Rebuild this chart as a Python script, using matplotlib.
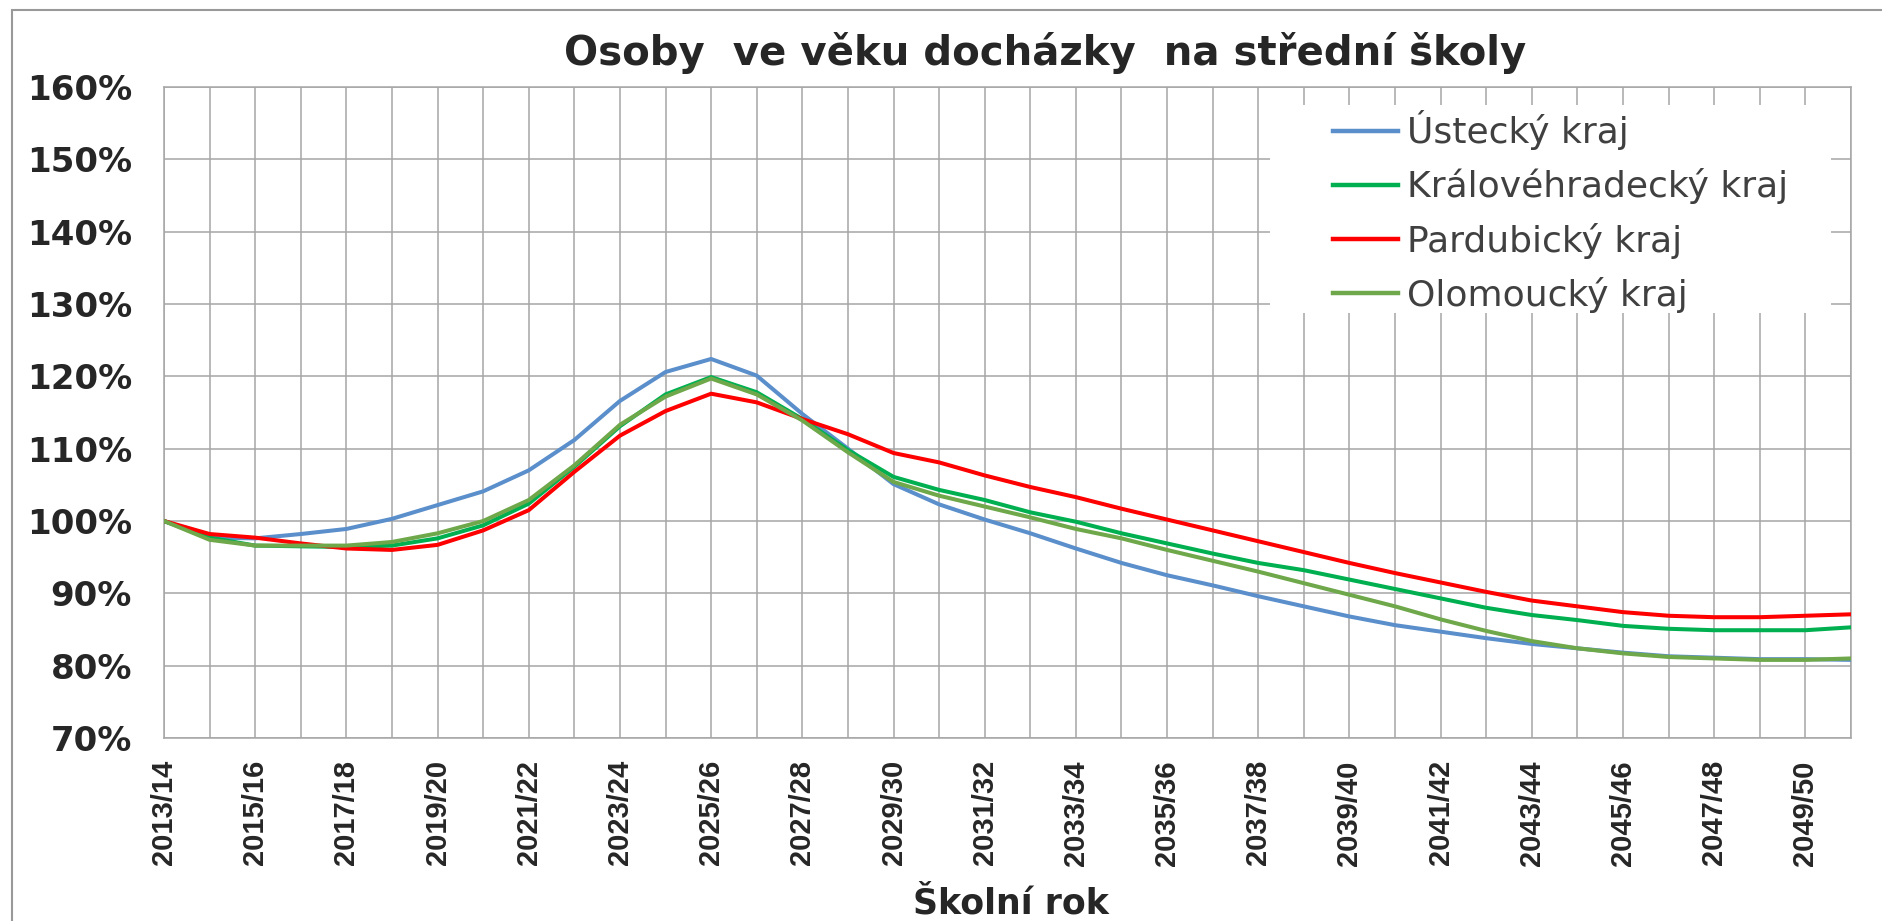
import matplotlib
matplotlib.use("Agg")
import matplotlib.pyplot as plt
from matplotlib import font_manager
from matplotlib.patches import Rectangle
from matplotlib.ticker import FuncFormatter

# school years 2013/14 .. 2050/51
years = [f"{y}/{(y + 1) % 100:02d}" for y in range(2013, 2051)]

ustecky = [100.0, 97.7, 97.6, 98.2, 98.9, 100.3, 102.2, 104.1, 107.0, 111.2,
           116.6, 120.6, 122.4, 120.1, 114.8, 110.0, 105.1, 102.3, 100.2, 98.3,
           96.2, 94.2, 92.5, 91.1, 89.6, 88.2, 86.8, 85.6, 84.7, 83.8,
           83.0, 82.4, 81.8, 81.3, 81.1, 80.9, 80.9, 80.8]
kralovehradecky = [100.0, 97.7, 96.6, 96.5, 96.4, 96.6, 97.6, 99.4, 102.4, 107.5,
                   113.1, 117.5, 119.9, 117.8, 114.1, 109.8, 106.1, 104.3, 102.9, 101.2,
                   99.9, 98.3, 96.9, 95.5, 94.2, 93.2, 91.9, 90.6, 89.3, 88.0,
                   87.0, 86.3, 85.5, 85.1, 84.9, 84.9, 84.9, 85.3]
pardubicky = [100.0, 98.2, 97.7, 96.9, 96.2, 96.0, 96.7, 98.7, 101.5, 106.8,
              111.8, 115.2, 117.6, 116.4, 114.1, 112.0, 109.4, 108.1, 106.3, 104.7,
              103.3, 101.7, 100.2, 98.7, 97.2, 95.7, 94.2, 92.8, 91.5, 90.2,
              89.0, 88.2, 87.4, 86.9, 86.7, 86.7, 86.9, 87.1]
olomoucky = [100.0, 97.4, 96.6, 96.6, 96.6, 97.1, 98.3, 100.0, 102.9, 107.7,
             113.3, 117.2, 119.7, 117.5, 113.9, 109.5, 105.4, 103.5, 102.0, 100.5,
             98.9, 97.6, 96.0, 94.5, 93.0, 91.4, 89.8, 88.2, 86.4, 84.8,
             83.4, 82.4, 81.7, 81.2, 81.0, 80.8, 80.8, 81.0]

series = [
    ("Ústecký kraj", ustecky, "#5a8fcb"),
    ("Královéhradecký kraj", kralovehradecky, "#00b050"),
    ("Pardubický kraj", pardubicky, "#ff0000"),
    ("Olomoucký kraj", olomoucky, "#6ea84a"),
]

# narrow font for the rotated year labels if it is there
installed = {f.name for f in font_manager.fontManager.ttflist}
if "Liberation Sans Narrow" in installed:
    xfont, xsize = "Liberation Sans Narrow", 23
else:
    xfont, xsize = "Liberation Sans", 21

W, H = 1883, 921
fig = plt.figure(figsize=(W / 100, H / 100), dpi=100)
ax = fig.add_axes([164 / W, 1 - 738 / H, 1687 / W, 651 / H])

x = list(range(len(years)))
for name, vals, color in series:
    ax.plot(x, vals, color=color, lw=2.9, label=name, zorder=3, solid_joinstyle="round")

ax.set_xlim(0, len(years) - 1)
ax.set_ylim(70, 160)
ax.set_yticks(range(70, 161, 10))
ax.yaxis.set_major_formatter(FuncFormatter(lambda v, p: f"{int(v)}%"))
ax.set_xticks(x)
ax.set_xticklabels([y if i % 2 == 0 else "" for i, y in enumerate(years)],
                   rotation=90, fontfamily=xfont, fontweight="bold",
                   fontsize=xsize, color="#262626")
for lab in ax.get_yticklabels():
    lab.set_fontweight("bold")
    lab.set_fontsize(24.5)
    lab.set_color("#262626")
ax.tick_params(axis="both", length=0)
ax.tick_params(axis="y", pad=23)
ax.tick_params(axis="x", pad=16)

ax.set_axisbelow(True)
ax.grid(True, color="#a6a6a6", lw=1.1)
for s in ax.spines.values():
    s.set_color("#a6a6a6")
    s.set_linewidth(1.1)

# white area behind the legend
ax.add_patch(Rectangle((0.6556, 0.6528), 0.3325, 0.3196, transform=ax.transAxes,
                       facecolor="white", edgecolor="none", zorder=1))
leg = ax.legend(loc="upper left", bbox_to_anchor=(0.693, 0.964), frameon=False,
                fontsize=26, borderpad=0, borderaxespad=0, labelspacing=0.5,
                handlelength=1.8, handletextpad=0.25)
for t in leg.get_texts():
    t.set_color("#404040")
for h in leg.get_lines():
    h.set_linewidth(3.2)

fig.text(1045 / W, 1 - 65 / H, "Osoby  ve věku docházky  na střední školy",
         ha="center", va="baseline", fontsize=29, fontweight="bold", color="#262626")
fig.text(1011 / W, 1 - 913 / H, "Školní rok", ha="center", va="baseline",
         fontsize=25, fontweight="bold", color="#262626")

# outer chart border
fig.add_artist(Rectangle((12 / W, -0.1), 1.2, 1.1 - 10 / H, transform=fig.transFigure,
                         fill=False, edgecolor="#999999", lw=1.5))

fig.savefig("out.png", dpi=100)
